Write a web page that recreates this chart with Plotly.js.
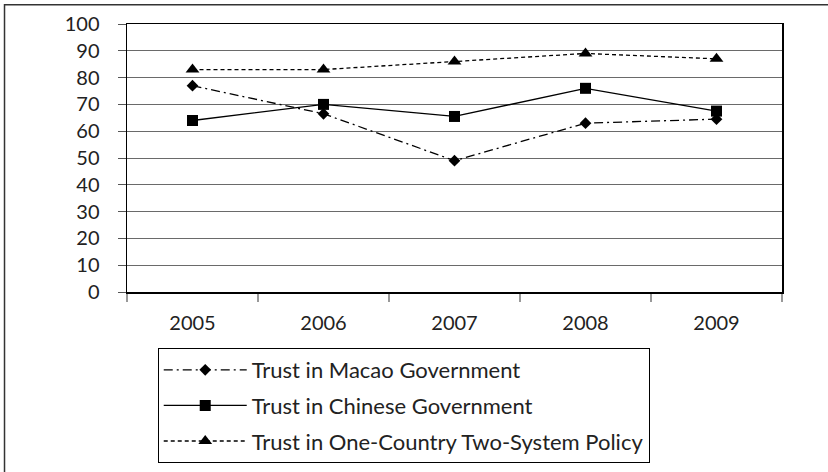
<!DOCTYPE html>
<html>
<head>
<meta charset="utf-8">
<script src="https://cdn.plot.ly/plotly-3.0.1.min.js"></script>
<style>
  html, body { margin: 0; padding: 0; background: #fff; }
  #chart { width: 828px; height: 472px; }
</style>
</head>
<body>
<div id="chart"></div>
<script>
const years = ['2005', '2006', '2007', '2008', '2009'];
const macaoGov = [77, 66.5, 49, 63, 64.5];
const chineseGov = [64, 70, 65.5, 76, 67.5];
const oneCountryPolicy = [83, 83, 86, 89, 87];
const seriesNames = [
  'Trust in Macao Government',
  'Trust in Chinese Government',
  'Trust in One-Country Two-System Policy'
];

const FONT = 'Lato, "Open Sans", sans-serif';

const traces = [
  {
    x: years, y: macaoGov, name: seriesNames[0], legendgroup: 'a',
    type: 'scatter', mode: 'lines+markers',
    line: { color: '#000', width: 1.3, dash: '9px,4px,2px,4px' },
    marker: { symbol: 'diamond', size: 9, color: '#000' }
  },
  {
    x: years, y: chineseGov, name: seriesNames[1], legendgroup: 'b',
    type: 'scatter', mode: 'lines+markers',
    line: { color: '#000', width: 1.3 },
    marker: { symbol: 'square', size: 11, color: '#000' }
  },
  {
    x: years, y: oneCountryPolicy, name: seriesNames[2], legendgroup: 'c',
    type: 'scatter', mode: 'lines+markers',
    line: { color: '#000', width: 1.3, dash: '4px,3px' },
    marker: { symbol: 'triangle-up', size: 12, color: '#000' }
  }
];

const layout = {
  width: 828, height: 472,
  margin: { l: 127, r: 46, t: 24, b: 180, pad: 0, autoexpand: false },
  paper_bgcolor: '#fff', plot_bgcolor: '#fff',
  font: { family: FONT, size: 20, color: '#222' },
  showlegend: true,
  legend: {
    xref: 'container', yref: 'container',
    x: 0.1905, y: 0.2627, xanchor: 'left', yanchor: 'top',
    bordercolor: '#000', borderwidth: 1,
    font: { family: FONT, size: 22, color: '#222' },
    traceorder: 'grouped', tracegroupgap: 4, itemwidth: 83
  },
  xaxis: {
    type: 'category', range: [-0.5, 4.5],
    tickson: 'boundaries', ticks: 'outside', ticklen: 8, tickcolor: '#999', tickwidth: 1.5,
    showgrid: false, zeroline: false,
    showline: true, linecolor: '#000', linewidth: 1.5, mirror: true,
    ticklabelstandoff: 12,
    tickfont: { family: FONT, size: 20, color: '#222' },
    fixedrange: true
  },
  yaxis: {
    range: [0, 100], tickmode: 'linear', tick0: 0, dtick: 10,
    ticks: 'outside', ticklen: 8, tickcolor: '#555', tickwidth: 1,
    showgrid: true, gridcolor: '#6a6a6a', gridwidth: 1,
    zeroline: false,
    showline: true, linecolor: '#000', linewidth: 1.5, mirror: true,
    ticklabelstandoff: 14,
    tickfont: { family: FONT, size: 20, color: '#222' },
    fixedrange: true
  },
  shapes: [
    {
      type: 'rect', xref: 'paper', yref: 'paper',
      x0: -0.187, x1: 2, y0: -2, y1: 1.072,
      line: { color: '#333', width: 1.5 }, fillcolor: 'rgba(0,0,0,0)', layer: 'below'
    }
  ]
};

Plotly.newPlot('chart', traces, layout, { displayModeBar: false, staticPlot: true });
</script>
</body>
</html>
